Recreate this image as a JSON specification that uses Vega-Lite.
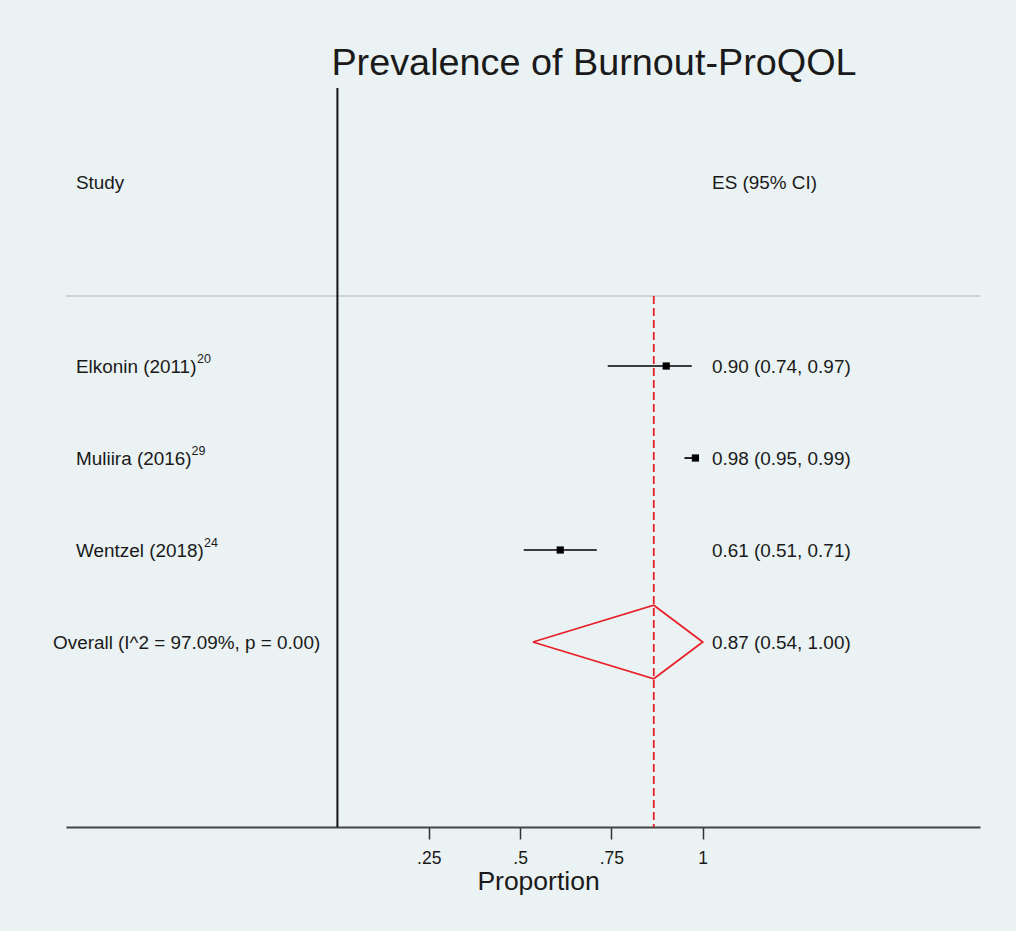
{
  "$schema": "https://vega.github.io/schema/vega-lite/v6.json",
  "width": 914,
  "height": 739,
  "autosize": {"type": "none"},
  "padding": {"left": 66, "top": 88, "right": 36, "bottom": 104},
  "background": "#EAF2F3",
  "title": {
    "text": "Prevalence of Burnout-ProQOL",
    "fontSize": 37.8,
    "fontWeight": "normal",
    "font": "Liberation Sans",
    "color": "#1a1a1a",
    "anchor": "middle",
    "frame": "group",
    "baseline": "alphabetic",
    "offset": 11,
    "dx": 71,
    "dy": 37
  },
  "config": {
    "view": {"stroke": null},
    "font": "Liberation Sans",
    "text": {"font": "Liberation Sans", "color": "#1a1a1a", "fontSize": 18.9}
  },
  "datasets": {
    "studies": [
      {"study": "Elkonin (2011)", "ref": "20", "row": 4, "es": 0.90, "lo": 0.74, "hi": 0.97, "es_text": "0.90 (0.74, 0.97)"},
      {"study": "Muliira (2016)", "ref": "29", "row": 3, "es": 0.98, "lo": 0.95, "hi": 0.99, "es_text": "0.98 (0.95, 0.99)"},
      {"study": "Wentzel (2018)", "ref": "24", "row": 2, "es": 0.61, "lo": 0.51, "hi": 0.71, "es_text": "0.61 (0.51, 0.71)"}
    ],
    "overall": [
      {"label": "Overall (I^2 = 97.09%, p = 0.00)", "row": 1, "es": 0.866, "lo": 0.535, "hi": 1.0, "es_text": "0.87 (0.54, 1.00)"}
    ],
    "diamond": [
      {"order": 1, "x": 0.535, "y": 1},
      {"order": 2, "x": 0.866, "y": 1.4},
      {"order": 3, "x": 1.0, "y": 1},
      {"order": 4, "x": 0.866, "y": 0.6},
      {"order": 5, "x": 0.535, "y": 1}
    ],
    "headers": [
      {"study_h": "Study", "es_h": "ES (95% CI)", "row": 6}
    ]
  },
  "layer": [
    {
      "data": {"name": "headers"},
      "mark": {"type": "rule", "color": "#c4c7c7", "strokeWidth": 1.5},
      "encoding": {
        "y": {"datum": 4.761, "type": "quantitative", "scale": {"domain": [-1.011, 7.022], "nice": false, "zero": false}, "axis": null}
      }
    },
    {
      "data": {"name": "headers"},
      "mark": {"type": "rule", "color": "#111111", "strokeWidth": 2},
      "encoding": {
        "x": {
          "datum": 0,
          "type": "quantitative",
          "scale": {"domain": [-0.743, 1.759], "nice": false, "zero": false},
          "axis": {
            "values": [0.25, 0.5, 0.75, 1],
            "labelExpr": "replace(toString(datum.value), '0.', '.')",
            "title": "Proportion",
            "titleFontSize": 26.5,
            "titleFontWeight": "normal",
            "titleFont": "Liberation Sans",
            "titleColor": "#1a1a1a",
            "titleX": 472,
            "titleY": 62,
            "titleAlign": "center",
            "titleBaseline": "alphabetic",
            "labelFontSize": 17.5,
            "labelFont": "Liberation Sans",
            "labelColor": "#1a1a1a",
            "labelPadding": 10,
            "tickSize": 12,
            "tickWidth": 1.5,
            "tickColor": "#333333",
            "domainColor": "#444444",
            "domainWidth": 2,
            "grid": false
          }
        }
      }
    },
    {
      "data": {"name": "overall"},
      "mark": {"type": "rule", "color": "#e8202a", "strokeWidth": 1.8, "strokeDash": [8, 4]},
      "encoding": {
        "x": {"field": "es", "type": "quantitative"},
        "y": {"datum": 4.761, "type": "quantitative", "axis": null},
        "y2": {"datum": -1.011}
      }
    },
    {
      "data": {"name": "studies"},
      "mark": {"type": "rule", "color": "#000000", "strokeWidth": 1.7},
      "encoding": {
        "x": {"field": "lo", "type": "quantitative"},
        "x2": {"field": "hi"},
        "y": {"field": "row", "type": "quantitative", "axis": null}
      }
    },
    {
      "data": {"name": "studies"},
      "mark": {"type": "point", "shape": "square", "filled": true, "color": "#000000", "opacity": 1, "size": 52},
      "encoding": {
        "x": {"field": "es", "type": "quantitative"},
        "y": {"field": "row", "type": "quantitative", "axis": null}
      }
    },
    {
      "data": {"name": "diamond"},
      "mark": {"type": "line", "color": "#e8202a", "strokeWidth": 1.8},
      "encoding": {
        "x": {"field": "x", "type": "quantitative"},
        "y": {"field": "y", "type": "quantitative", "axis": null},
        "order": {"field": "order"}
      }
    },
    {
      "data": {"name": "headers"},
      "mark": {"type": "text", "align": "left", "baseline": "alphabetic", "dy": 7},
      "encoding": {
        "x": {"datum": -0.7156, "type": "quantitative"},
        "y": {"field": "row", "type": "quantitative", "axis": null},
        "text": {"field": "study_h"}
      }
    },
    {
      "data": {"name": "headers"},
      "mark": {"type": "text", "align": "left", "baseline": "alphabetic", "dy": 7},
      "encoding": {
        "x": {"datum": 1.0255, "type": "quantitative"},
        "y": {"field": "row", "type": "quantitative", "axis": null},
        "text": {"field": "es_h"}
      }
    },
    {
      "data": {"name": "studies"},
      "mark": {"type": "text", "align": "left", "baseline": "alphabetic", "dy": 7},
      "encoding": {
        "x": {"datum": -0.7156, "type": "quantitative"},
        "y": {"field": "row", "type": "quantitative", "axis": null},
        "text": {"field": "study"}
      }
    },
    {
      "data": {"name": "studies"},
      "transform": [{"filter": "datum.row == 4"}],
      "mark": {"type": "text", "align": "left", "baseline": "alphabetic", "dy": -3, "dx": 121, "fontSize": 12.5},
      "encoding": {
        "x": {"datum": -0.7156, "type": "quantitative"},
        "y": {"field": "row", "type": "quantitative", "axis": null},
        "text": {"field": "ref"}
      }
    },
    {
      "data": {"name": "studies"},
      "transform": [{"filter": "datum.row == 3"}],
      "mark": {"type": "text", "align": "left", "baseline": "alphabetic", "dy": -3, "dx": 115.5, "fontSize": 12.5},
      "encoding": {
        "x": {"datum": -0.7156, "type": "quantitative"},
        "y": {"field": "row", "type": "quantitative", "axis": null},
        "text": {"field": "ref"}
      }
    },
    {
      "data": {"name": "studies"},
      "transform": [{"filter": "datum.row == 2"}],
      "mark": {"type": "text", "align": "left", "baseline": "alphabetic", "dy": -3, "dx": 128, "fontSize": 12.5},
      "encoding": {
        "x": {"datum": -0.7156, "type": "quantitative"},
        "y": {"field": "row", "type": "quantitative", "axis": null},
        "text": {"field": "ref"}
      }
    },
    {
      "data": {"name": "studies"},
      "mark": {"type": "text", "align": "left", "baseline": "alphabetic", "dy": 7},
      "encoding": {
        "x": {"datum": 1.0255, "type": "quantitative"},
        "y": {"field": "row", "type": "quantitative", "axis": null},
        "text": {"field": "es_text"}
      }
    },
    {
      "data": {"name": "overall"},
      "mark": {"type": "text", "align": "left", "baseline": "alphabetic", "dy": 7},
      "encoding": {
        "x": {"datum": -0.7786, "type": "quantitative"},
        "y": {"field": "row", "type": "quantitative", "axis": null},
        "text": {"field": "label"}
      }
    },
    {
      "data": {"name": "overall"},
      "mark": {"type": "text", "align": "left", "baseline": "alphabetic", "dy": 7},
      "encoding": {
        "x": {"datum": 1.0255, "type": "quantitative"},
        "y": {"field": "row", "type": "quantitative", "axis": null},
        "text": {"field": "es_text"}
      }
    }
  ]
}
